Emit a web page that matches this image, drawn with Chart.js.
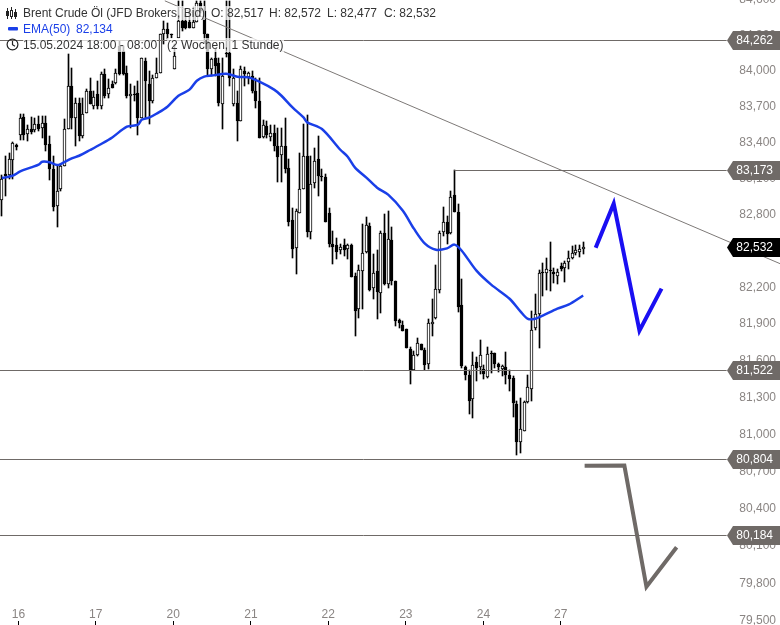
<!DOCTYPE html>
<html lang="de">
<head>
  <meta charset="UTF-8" />
  <title>Brent Crude Öl</title>
  <script src="https://cdn.jsdelivr.net/npm/chart.js"></script>
  <style>
    html, body { margin: 0; padding: 0; background: #fff; overflow: hidden; }
    #wrap { position: relative; width: 780px; height: 625px; }
    canvas { display: block; }
    .row { position: absolute; height: 14px; line-height: 14px; white-space: pre;
           font: 12px "Liberation Sans", Arial, sans-serif; color: #333;
           background: rgba(255,255,255,0.72); }
    .blue { color: #1a3fe8; }
    svg { position: absolute; }
  </style>
</head>
<body>
  <div id="wrap">
    <canvas id="chart" width="780" height="625"></canvas>
    <svg style="left:5px;top:7px" width="13" height="13" viewBox="0 0 13 13" fill="none" stroke="#222">
      <path d="M2.5 1v11M6.5 0v12M10.5 2v10"/><rect x="1.5" y="4.5" width="2" height="4" fill="#222"/><rect x="5.5" y="3.5" width="2" height="6" fill="#fff"/><rect x="9.5" y="5.5" width="2" height="4" fill="#222"/>
    </svg>
    <div class="row" style="left:23px;top:6px">Brent Crude Öl (JFD Brokers, Bid)</div>
    <div class="row" style="left:211px;top:6px">O: 82,517</div>
    <div class="row" style="left:269px;top:6px">H: 82,572</div>
    <div class="row" style="left:327px;top:6px">L: 82,477</div>
    <div class="row" style="left:384px;top:6px">C: 82,532</div>
    <svg style="left:8px;top:27px" width="10" height="4"><rect width="10" height="3.5" rx="1" fill="#1a3fe8"/></svg>
    <div class="row blue" style="left:23px;top:22px">EMA(50)</div>
    <div class="row blue" style="left:76px;top:22px">82,134</div>
    <svg style="left:6px;top:38px" width="13" height="13" viewBox="0 0 13 13" fill="none" stroke="#222" stroke-width="1.2">
      <circle cx="6.5" cy="6.5" r="5.4"/><path d="M6.5 3v3.7l2.5 1.5"/>
    </svg>
    <div class="row" style="left:23px;top:38px">15.05.2024 18:00 - 08:00</div>
    <div class="row" style="left:167px;top:38px">(2 Wochen, 1 Stunde)</div>
  </div>

  <script>
    const opens = [
      82.925,83.142,83.134,83.258,83.383,83.466,83.617,83.475,83.517,83.508,83.559,83.525,83.567,83.392,83.183,82.876,83.017,83.208,83.517,83.877,
      83.609,83.734,83.458,83.651,83.835,83.709,83.810,83.709,83.978,83.810,83.894,83.903,84.214,84.172,83.987,83.793,83.810,83.818,83.609,84.088,
      83.894,83.751,83.945,83.987,84.315,84.357,84.315,84.020,84.281,84.425,84.425,84.416,84.366,84.416,84.576,84.509,84.315,84.020,84.113,84.071,
      83.726,84.155,84.155,83.726,83.734,83.584,84.004,83.953,83.962,83.835,83.751,83.450,83.542,83.450,83.483,83.375,83.300,83.375,83.192,82.760,
      82.528,82.818,83.017,83.291,82.660,83.067,83.266,83.125,83.117,82.818,82.561,82.553,82.511,82.553,82.520,82.553,82.297,82.025,82.338,82.495,
      82.710,82.198,82.338,82.157,82.652,82.231,82.594,82.256,81.935,81.894,81.861,81.698,81.520,81.648,81.739,81.689,81.575,81.902,81.952,82.182,
      82.660,82.743,82.652,82.967,82.826,82.058,81.550,81.485,81.290,81.591,81.550,81.534,81.469,81.665,81.665,81.575,81.534,81.550,81.485,81.461,
      81.249,80.940,81.029,81.265,81.371,81.870,81.984,82.330,82.322,82.346,82.330,82.297,82.379,82.363,82.412,82.445,82.487,82.495,82.517
    ];
    const highs = [
      83.134,83.291,83.316,83.408,83.392,83.642,83.642,83.550,83.617,83.609,83.626,83.626,83.626,83.458,83.291,83.208,83.225,83.601,84.147,84.029,
      83.776,83.776,83.776,83.852,83.945,83.835,83.919,83.995,84.020,83.936,83.919,84.020,84.256,84.214,84.046,83.894,83.877,83.919,84.113,84.113,
      84.004,83.970,84.113,84.315,84.425,84.408,84.315,84.231,84.593,84.593,84.484,84.509,84.543,84.593,84.593,84.593,84.315,84.113,84.197,84.113,
      84.113,84.593,84.593,84.020,83.835,84.046,84.037,83.995,84.004,83.945,83.945,83.592,83.584,83.550,83.550,83.525,83.525,83.609,83.266,82.859,
      82.851,83.316,83.559,83.634,83.291,83.358,83.458,83.183,83.142,82.859,82.669,82.611,82.561,82.602,82.561,82.561,82.322,82.388,82.727,82.784,
      82.735,82.478,82.511,82.669,82.809,82.834,82.702,82.256,81.943,81.927,81.861,81.714,81.681,81.788,81.739,81.706,81.943,82.107,82.388,82.669,
      82.867,82.793,83.000,83.175,82.892,82.272,81.559,81.520,81.673,81.632,81.771,81.567,81.714,81.681,81.665,81.583,81.567,81.673,81.520,81.477,
      81.273,81.298,81.273,81.485,82.009,82.149,82.346,82.404,82.445,82.578,82.363,82.355,82.404,82.421,82.503,82.545,82.553,82.553,82.572
    ];
    const lows = [
      82.793,82.959,83.100,83.100,83.341,83.425,83.425,83.417,83.475,83.491,83.500,83.442,83.333,83.092,82.834,82.702,83.000,83.208,83.517,83.517,
      83.375,83.417,83.442,83.651,83.726,83.684,83.684,83.684,83.776,83.776,83.860,83.894,83.970,83.970,83.776,83.525,83.751,83.466,83.609,83.609,
      83.559,83.734,83.945,83.987,84.231,84.272,84.281,84.020,84.281,84.340,84.357,84.366,84.366,84.416,84.492,84.239,83.962,83.962,83.962,83.709,
      83.517,84.121,83.877,83.709,83.417,83.584,83.877,83.894,83.818,83.692,83.442,83.442,83.442,83.417,83.333,83.075,83.075,83.150,82.710,82.445,
      82.313,82.818,83.017,82.619,82.602,83.025,82.959,83.083,82.743,82.536,82.396,82.437,82.478,82.462,82.437,82.289,81.804,81.952,82.025,82.487,
      82.173,82.107,81.943,81.993,82.223,82.198,82.223,81.886,81.870,81.845,81.706,81.412,81.520,81.640,81.689,81.526,81.534,81.804,81.943,82.157,
      82.627,82.561,82.644,82.826,82.001,81.542,81.444,81.167,81.135,81.436,81.493,81.452,81.461,81.501,81.542,81.510,81.477,81.412,81.355,81.143,
      80.835,80.851,81.029,81.257,81.273,81.853,81.706,82.132,82.182,82.173,82.239,82.231,82.338,82.248,82.355,82.437,82.470,82.454,82.477
    ];
    const closes = [
      83.100,83.125,83.266,83.400,83.366,83.609,83.466,83.517,83.491,83.559,83.517,83.567,83.383,83.183,82.867,83.000,83.208,83.517,83.877,83.609,
      83.734,83.458,83.642,83.835,83.726,83.785,83.709,83.978,83.793,83.860,83.860,83.987,83.978,83.978,83.793,83.810,83.802,83.609,84.113,83.919,
      83.751,83.945,83.987,84.315,84.357,84.315,84.307,84.130,84.425,84.366,84.366,84.366,84.416,84.576,84.509,84.315,84.020,84.105,84.046,83.734,
      83.962,84.147,83.945,83.945,83.584,84.020,83.978,83.987,83.835,83.751,83.442,83.550,83.466,83.483,83.375,83.283,83.375,83.183,82.743,82.520,
      82.834,83.017,83.291,82.660,83.058,83.250,83.125,83.117,82.743,82.561,82.536,82.495,82.536,82.511,82.553,82.289,82.009,82.346,82.487,82.718,
      82.182,82.322,82.165,82.652,82.231,82.602,82.256,81.927,81.911,81.845,81.706,81.520,81.648,81.747,81.689,81.567,81.911,81.919,82.190,82.652,
      82.743,82.644,82.950,82.826,82.042,81.559,81.485,81.273,81.567,81.542,81.648,81.493,81.657,81.657,81.575,81.550,81.559,81.485,81.452,81.257,
      80.940,81.046,81.265,81.387,81.853,81.984,82.322,82.322,82.355,82.338,82.313,82.330,82.355,82.404,82.445,82.487,82.511,82.520,82.532
    ];

    const emaIndex = [0,1,3,5,8,10,11,13,15,16,19,21,24,27,30,34,37,38,40,42,45,48,51,53,55,57,61,64,67,70,74,76,79,82,83,87,92,94,96,99,102,105,109,112,115,118,121,123,125,129,133,138,141,143,145,147,151,154,158];
    const emaValues = [83.106,83.111,83.125,83.161,83.194,83.217,83.241,83.236,83.214,83.222,83.269,83.291,83.339,83.389,83.444,83.534,83.550,83.592,83.609,83.642,83.701,83.793,83.844,83.919,83.953,83.962,83.978,83.953,83.947,83.911,83.844,83.793,83.695,83.611,83.570,83.514,83.341,83.283,83.192,83.111,83.025,82.967,82.834,82.685,82.561,82.511,82.522,82.553,82.503,82.338,82.223,82.107,82.001,81.941,81.943,81.968,82.025,82.058,82.134];

    const dayLabels = ['16','17','20','21','22','23','24','27'];
    const dayIndex = [4.5,25.5,46.6,67.7,88.7,109.8,130.9,151.9];
    const slotCount = 212;

    const tickValues = [84.6,84.3,84.0,83.7,83.4,83.1,82.8,82.5,82.2,81.9,81.6,81.3,81.0,80.7,80.4,80.1,79.8,79.5];

    const levelValues = [84.262,83.173,81.522,80.804,80.184];
    const levelStart = [-0.5,123,-0.5,-0.5,-0.5];
    const levelEnd = 197;
    const lastClose = 82.532;

    const trendIndex = [44.3,211.5];
    const trendValues = [84.593,82.396];
    const blueIndex = [161.4,166.3,173.3,179.3];
    const blueValues = [82.528,82.892,81.845,82.190];
    const grayIndex = [158.4,169.2,175.2,183.4];
    const grayValues = [80.745,80.747,79.773,80.089];

    const FONT = "'Liberation Sans', Arial, sans-serif";
    const GRAY = '#6f6a67';

    function formatPrice(v) {
      return v.toFixed(3).replace('.', ',');
    }
    function points(xs, ys) {
      return xs.map((x, i) => ({ x: x, y: ys[i] }));
    }

    const labels = new Array(slotCount).fill('');
    const isUp = closes.map((c, i) => c >= opens[i]);

    const datasets = [];
    levelValues.forEach((v, i) => {
      datasets.push({
        type: 'line', xAxisID: 'x2', isLevel: true,
        data: points([levelStart[i], levelEnd], [v, v]),
        borderColor: GRAY, borderWidth: 1, pointRadius: 0
      });
    });
    datasets.push({
      type: 'line', xAxisID: 'x2',
      data: points(blueIndex, blueValues),
      borderColor: '#1a0ff2', borderWidth: 4, pointRadius: 0, clip: false
    });
    datasets.push({
      type: 'line', xAxisID: 'x2',
      data: points(grayIndex, grayValues),
      borderColor: GRAY, borderWidth: 4, pointRadius: 0, clip: false
    });
    datasets.push({
      type: 'line', xAxisID: 'x2',
      data: points(trendIndex, trendValues),
      borderColor: '#7d7977', borderWidth: 1, pointRadius: 0, clip: false
    });
    datasets.push({
      type: 'line', xAxisID: 'x2',
      data: points(emaIndex, emaValues),
      borderColor: '#1a3fe8', borderWidth: 2.5, pointRadius: 0, tension: 0.3
    });
    // bodies sit above the wicks, white ones hide their wick
    datasets.push({
      type: 'bar', xAxisID: 'x', isBody: true, grouped: false,
      data: opens.map((o, i) => [o, closes[i]]),
      backgroundColor: isUp.map(up => up ? '#fff' : '#000'),
      borderColor: '#000', borderWidth: 1, borderSkipped: false,
      barThickness: 3, minBarLength: 1
    });
    datasets.push({
      type: 'bar', xAxisID: 'x', isWick: true, grouped: false,
      data: lows.map((l, i) => [l, highs[i]]),
      backgroundColor: '#000', borderWidth: 0,
      barThickness: 1
    });

    // keep bars and level lines on whole pixels so they stay sharp
    const snapPlugin = {
      id: 'snap',
      afterDatasetsUpdate(chart) {
        chart.data.datasets.forEach((ds, i) => {
          const meta = chart.getDatasetMeta(i);
          if (ds.isLevel) {
            meta.data.forEach(el => { el.y = Math.round(el.y) + 0.5; });
          }
          if (ds.isBody || ds.isWick) {
            meta.data.forEach(el => {
              el.x = Math.floor(el.x) + 0.5;
              el.y = Math.round(el.y);
              el.base = Math.round(el.base);
            });
          }
        });
      }
    };

    function drawTag(ctx, y, value, color) {
      const c = Math.round(y);
      ctx.fillStyle = color;
      ctx.beginPath();
      ctx.moveTo(727, c + 0.5);
      ctx.lineTo(733, c - 9);
      ctx.lineTo(780, c - 9);
      ctx.lineTo(780, c + 10);
      ctx.lineTo(733, c + 10);
      ctx.closePath();
      ctx.fill();
      ctx.fillStyle = '#fff';
      ctx.font = '12px ' + FONT;
      ctx.textAlign = 'right';
      ctx.textBaseline = 'middle';
      ctx.fillText(formatPrice(value), 773, c + 1);
    }

    const tagPlugin = {
      id: 'tags',
      afterDraw(chart) {
        const ctx = chart.ctx;
        const yScale = chart.scales.y;
        ctx.save();
        levelValues.forEach(v => drawTag(ctx, yScale.getPixelForValue(v), v, GRAY));
        drawTag(ctx, yScale.getPixelForValue(lastClose), lastClose, '#000');
        ctx.restore();
      }
    };

    new Chart(document.getElementById('chart').getContext('2d'), {
      type: 'bar',
      data: { labels: labels, datasets: datasets },
      plugins: [snapPlugin, tagPlugin],
      options: {
        responsive: false,
        animation: false,
        events: [],
        layout: { padding: 0, autoPadding: false },
        plugins: { legend: { display: false }, tooltip: { enabled: false }, title: { display: false } },
        scales: {
          x: { type: 'category', display: false, offset: true },
          x2: {
            type: 'linear',
            position: 'bottom',
            offset: false,
            min: -0.5,
            max: slotCount - 0.5,
            border: { display: false },
            grid: { drawOnChartArea: false, offset: false, tickLength: 4, tickColor: '#000' },
            ticks: {
              autoSkip: false, maxRotation: 0, minRotation: 0, mirror: true, padding: -1,
              color: '#8a8583', font: { family: FONT, size: 12 },
              callback: v => dayLabels[dayIndex.indexOf(v)]
            },
            afterBuildTicks(scale) {
              scale.ticks = dayIndex.map(v => ({ value: v }));
            },
            afterFit(scale) { scale.height = 4; scale.paddingLeft = 0; scale.paddingRight = 0; }
          },
          y: {
            type: 'logarithmic',
            position: 'right',
            min: 79.5,
            max: 84.6,
            bounds: 'data',
            border: { display: false },
            grid: { drawOnChartArea: false, tickLength: 3, tickColor: '#000' },
            ticks: {
              mirror: true, padding: -4,
              color: '#8a8583', font: { family: FONT, size: 12 },
              callback: v => formatPrice(v)
            },
            afterBuildTicks(scale) {
              scale.ticks = tickValues.map(v => ({ value: v }));
            },
            afterFit(scale) { scale.paddingTop = 0; scale.paddingBottom = 0; }
          }
        }
      }
    });
  </script>
</body>
</html>
